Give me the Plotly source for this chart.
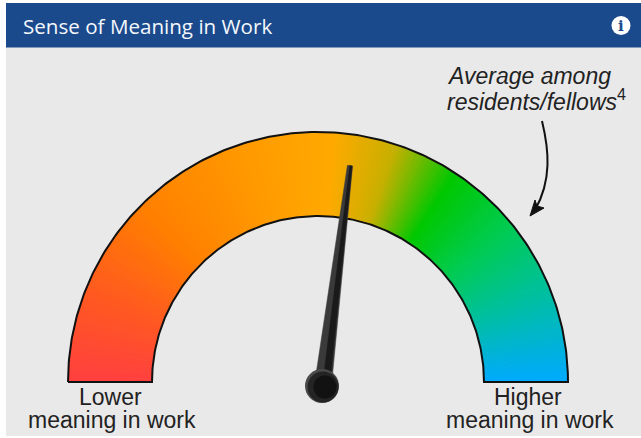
import numpy as np
import plotly.graph_objects as go

# ---- data ----
title_text = "Sense of Meaning in Work"
low_lines = ["Lower", "meaning in work"]
high_lines = ["Higher", "meaning in work"]
note_lines = ["<i>Average among</i>", "<i>residents/fellows</i><sup>4</sup>"]
needle_value = 53.9          # position on the gauge, 0 (lower) to 100 (higher)
gauge_positions = [0, 12, 25, 40, 52, 60, 68.5, 78, 88, 100]
gauge_colors = ["#ff4040", "#ff5a20", "#ff8000", "#ff9a00", "#ffaa00", "#c8b000",
                "#00c800", "#00cc50", "#00c0a0", "#00aaff"]

# ---- styling / geometry ----
CX, CY, R_OUT, R_IN = 318, 382, 250, 166
PX, PY = 323, 385            # needle pivot
NEEDLE_LEN = 221


def hex2rgb(h):
    return np.array([int(h[i:i + 2], 16) for i in (1, 3, 5)], float)


rgb = np.array([hex2rgb(c) for c in gauge_colors])


def colour(v):
    return "rgb(%d,%d,%d)" % tuple(np.interp(v, gauge_positions, rgb[:, k]) for k in range(3))


def ang(v):
    return np.pi * (1 - np.asarray(v, float) / 100)


fig = go.Figure()

# gradient band, one thin wedge per gauge step
edges = np.linspace(0, 100, 181)
for a, b in zip(edges[:-1], edges[1:]):
    t = ang([a, b + 0.12 if b < 100 else b])
    xs = [CX + R_OUT * np.cos(t[0]), CX + R_OUT * np.cos(t[1]), CX + R_IN * np.cos(t[1]), CX + R_IN * np.cos(t[0])]
    ys = [CY - R_OUT * np.sin(t[0]), CY - R_OUT * np.sin(t[1]), CY - R_IN * np.sin(t[1]), CY - R_IN * np.sin(t[0])]
    fig.add_trace(go.Scatter(x=xs, y=ys, mode="lines", fill="toself", line=dict(width=0),
                             fillcolor=colour((a + b) / 2), hoverinfo="skip", showlegend=False))

# band outline
v = np.linspace(0, 100, 241)
t = ang(v)
ox = CX + R_OUT * np.cos(t)
oy = CY - R_OUT * np.sin(t)
ix = CX + R_IN * np.cos(t[::-1])
iy = CY - R_IN * np.sin(t[::-1])
fig.add_trace(go.Scatter(x=np.r_[ox, ix, ox[0]], y=np.r_[oy, iy, oy[0]], mode="lines",
                         line=dict(color="#111111", width=2), hoverinfo="skip", showlegend=False))

# needle: strips so that its sides read lighter than its core
na = ang(needle_value)
dx, dy = np.cos(na), -np.sin(na)
nx, ny = -dy, dx   # normal
tip = (PX + NEEDLE_LEN * dx, PY + NEEDLE_LEN * dy)
bw, tw = 8.5, 2.6


def needle_poly(s0, s1, c):
    xs = [PX + s0 * bw * nx, tip[0] + s0 * tw * nx, tip[0] + s1 * tw * nx, PX + s1 * bw * nx]
    ys = [PY + s0 * bw * ny, tip[1] + s0 * tw * ny, tip[1] + s1 * tw * ny, PY + s1 * bw * ny]
    fig.add_trace(go.Scatter(x=xs, y=ys, mode="lines", fill="toself", fillcolor=c, line=dict(width=0.5, color=c),
                             hoverinfo="skip", showlegend=False))


needle_poly(-1, 1, "#3a3a3a")
needle_poly(-0.05, 0.8, "#1a1a1a")

# hub
for size, c, ox_, oy_ in [(34, "#4a4a4a", -1, 1), (31, "#242424", 0, 2), (23, "#121212", 2, 2)]:
    fig.add_trace(go.Scatter(x=[PX + ox_], y=[PY + oy_], mode="markers",
                             marker=dict(size=size, color=c, line=dict(width=0)),
                             hoverinfo="skip", showlegend=False))

TXT = "#222222"
LAB = dict(family="Liberation Sans", size=23, color=TXT)
annots = [
    dict(x=21, y=25.5, text=title_text, xanchor="left", font=dict(family="Open Sans", size=20.6, color="#f4f8fc")),
    dict(x=110, y=397, text=low_lines[0], font=LAB),
    dict(x=112, y=420, text=low_lines[1], font=LAB),
    dict(x=528, y=397, text=high_lines[0], font=LAB),
    dict(x=530, y=420, text=high_lines[1], font=LAB),
    dict(x=445, y=76, text=note_lines[0], xanchor="left", font=LAB),
    dict(x=445, y=100, text=note_lines[1], xanchor="left", font=LAB),
    dict(x=621, y=26, text="<b>i</b>", font=dict(family="DejaVu Serif", size=15, color="#1b4a8c")),
]

shapes = [
    dict(type="rect", x0=6, x1=641, y0=3, y1=436, fillcolor="#e9e9e9", line_width=0, layer="below"),
    dict(type="rect", x0=6, x1=641, y0=3, y1=47.5, fillcolor="#1b4a8c", line_width=0, layer="below"),
    dict(type="circle", x0=611.5, x1=630.5, y0=16, y1=35, fillcolor="white", line_width=0, layer="below"),
    # curved pointer
    dict(type="path", path="M 542 121 C 549 150, 552 180, 535 210", line=dict(color="#111111", width=2)),
    dict(type="path", path="M 530 216 L 535 200 L 537 206 L 544 208 Z", fillcolor="#111111",
         line=dict(color="#111111", width=1)),
]

fig.update_layout(
    width=641, height=438, margin=dict(l=0, r=0, t=0, b=0),
    paper_bgcolor="white", plot_bgcolor="rgba(0,0,0,0)", showlegend=False,
    xaxis=dict(range=[0, 641], visible=False, fixedrange=True),
    yaxis=dict(range=[438, 0], visible=False, fixedrange=True),
    shapes=shapes,
    annotations=[dict(a, showarrow=False, xref="x", yref="y") for a in annots],
)
fig.write_html("out.html", config=dict(displayModeBar=False),
               post_script="document.body.style.margin='0';document.body.style.overflow='hidden';")
